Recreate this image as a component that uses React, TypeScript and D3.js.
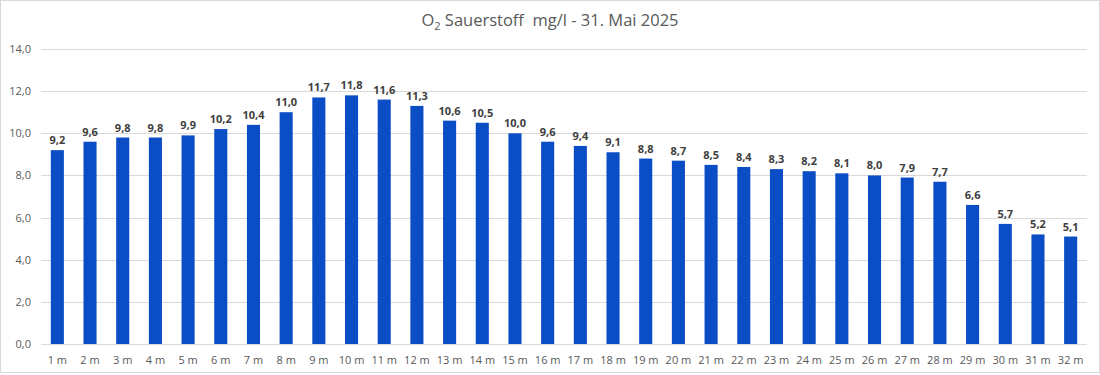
import React, { useEffect, useRef } from 'react';
import * as d3 from 'd3';

// depth labels and oxygen values (mg/l)
const depths = ['1 m', '2 m', '3 m', '4 m', '5 m', '6 m', '7 m', '8 m', '9 m', '10 m', '11 m', '12 m', '13 m', '14 m', '15 m', '16 m',
  '17 m', '18 m', '19 m', '20 m', '21 m', '22 m', '23 m', '24 m', '25 m', '26 m', '27 m', '28 m', '29 m', '30 m', '31 m', '32 m'];
const oxygen = [9.2, 9.6, 9.8, 9.8, 9.9, 10.2, 10.4, 11.0, 11.7, 11.8, 11.6, 11.3, 10.6, 10.5, 10.0, 9.6,
  9.4, 9.1, 8.8, 8.7, 8.5, 8.4, 8.3, 8.2, 8.1, 8.0, 7.9, 7.7, 6.6, 5.7, 5.2, 5.1];
const yTicks = [0, 2, 4, 6, 8, 10, 12, 14];

const W = 1100;
const H = 375;
const font = '"Open Sans", "Noto Sans", sans-serif';
const fmt = (v: number) => v.toFixed(1).replace('.', ',');

const App = () => {
  const svgRef = useRef<SVGSVGElement>(null);

  useEffect(() => {
    const margin = { top: 49, right: 13, bottom: 31, left: 41 };
    const svg = d3.select(svgRef.current);
    svg.selectAll('*').remove();

    svg.append('rect')
      .attr('x', 0.5).attr('y', 0.5)
      .attr('width', W - 1).attr('height', H - 3)
      .attr('fill', '#fff').attr('stroke', '#d9d9d9');

    const x = d3.scaleBand().domain(depths).range([margin.left, W - margin.right]).paddingInner(0.6).paddingOuter(0.3);
    const y = d3.scaleLinear().domain([0, 14]).range([H - margin.bottom, margin.top]);

    // grid lines + y labels
    const grid = svg.append('g');
    grid.selectAll('line').data(yTicks).join('line')
      .attr('x1', margin.left).attr('x2', W - margin.right)
      .attr('y1', (d) => Math.round(y(d)) + 0.5).attr('y2', (d) => Math.round(y(d)) + 0.5)
      .attr('stroke', '#d9d9d9');
    grid.selectAll('text').data(yTicks).join('text')
      .attr('x', 31).attr('y', (d) => y(d) + 4)
      .attr('text-anchor', 'end')
      .attr('font-family', font).attr('font-size', 11).attr('fill', '#595959')
      .text((d) => fmt(d));

    // bars
    svg.append('g').selectAll('rect').data(oxygen).join('rect')
      .attr('x', (d, i) => x(depths[i])!)
      .attr('y', (d) => y(d))
      .attr('width', x.bandwidth())
      .attr('height', (d) => y(0) - y(d))
      .attr('fill', '#0b4dc5');

    // value labels
    svg.append('g').selectAll('text').data(oxygen).join('text')
      .attr('x', (d, i) => x(depths[i])! + x.bandwidth() / 2)
      .attr('y', (d) => y(d) - 6)
      .attr('text-anchor', 'middle')
      .attr('font-family', font).attr('font-size', 11).attr('font-weight', 'bold').attr('fill', '#404040')
      .text((d) => fmt(d));

    // x labels
    svg.append('g').selectAll('text').data(depths).join('text')
      .attr('x', (d) => x(d)! + x.bandwidth() / 2)
      .attr('y', H - margin.bottom + 20)
      .attr('text-anchor', 'middle')
      .attr('font-family', font).attr('font-size', 11).attr('fill', '#595959')
      .text((d) => d);

    // title
    const title = svg.append('text')
      .attr('x', W / 2).attr('y', 26)
      .attr('text-anchor', 'middle')
      .style('white-space', 'pre')
      .attr('font-family', font).attr('font-size', 16.5).attr('fill', '#595959');
    title.append('tspan').text('O');
    title.append('tspan').attr('font-size', 11).attr('dy', 4).text('2');
    title.append('tspan').attr('dy', -4).text(' Sauerstoff  mg/l - 31. Mai 2025');
  }, []);

  return <svg ref={svgRef} width={W} height={H} style={{ position: 'absolute', left: 0, top: 0 }}></svg>;
};

export default App;
